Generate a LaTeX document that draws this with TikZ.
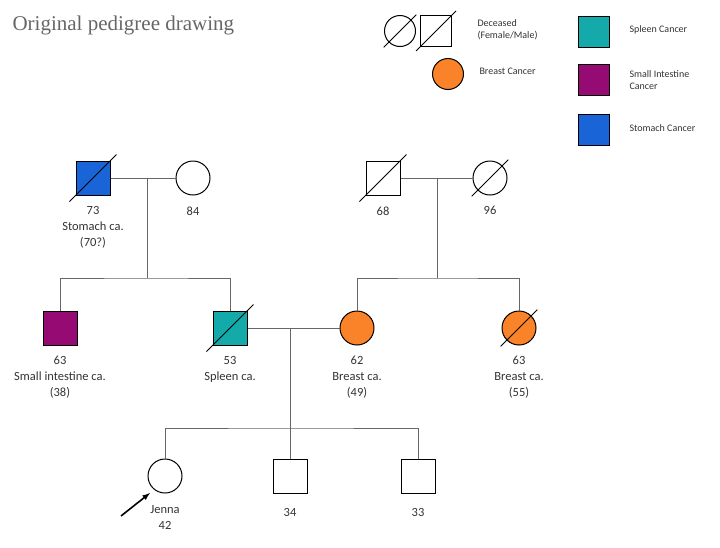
\documentclass[tikz,border=0pt]{standalone}
\usepackage{fontspec}
\setmainfont{Carlito}
\newfontfamily\titlefont{Liberation Serif}
\usetikzlibrary{calc}
\definecolor{stomach}{RGB}{25,100,215}
\definecolor{spleen}{RGB}{20,170,170}
\definecolor{smallint}{RGB}{150,10,115}
\definecolor{breast}{RGB}{250,130,40}
\tikzset{
  male/.style={draw,line width=1pt,minimum size=34pt,inner sep=0pt},
  female/.style={draw,circle,line width=1pt,minimum size=34pt,inner sep=0pt},
  lmale/.style={male,minimum size=31pt},
  lfemale/.style={female,minimum size=31pt},
  lab/.style={align=center,font=\fontsize{12.5pt}{16pt}\selectfont,text=black!80},
  leg/.style={align=left,anchor=west,font=\fontsize{10pt}{12pt}\selectfont,text=black!80},
  line/.style={draw=black!60,line width=0.8pt}
}
\begin{document}
\begin{tikzpicture}[x=1pt,y=-1pt]
\useasboundingbox (0,0) rectangle (720,547);
% Title
\node[anchor=west,text=black!60,font=\titlefont\fontsize{21pt}{23pt}\selectfont] (title) at (9,25) {Original pedigree drawing};
% Legend
\node[lfemale] (ldf) at (400,31) {};
\draw[line width=1pt] ($(ldf.south west)+(-5,5)$) -- ($(ldf.north east)+(5,-5)$);
\node[lmale] (ldm) at (436,31) {};
\draw[line width=1pt] ($(ldm.south west)+(-4,4)$) -- ($(ldm.north east)+(4,-4)$);
\node[leg] (tdead) at (474,30) {Deceased\\(Female/Male)};
\node[lfemale,fill=breast] (lbr) at (448,74) {};
\node[leg] (tbr) at (476,71) {Breast Cancer};
\node[lmale,fill=spleen] (lsp) at (594,32) {};
\node[leg] (tsp) at (626,30) {Spleen Cancer};
\node[lmale,fill=smallint] (lsi) at (594,80) {};
\node[leg] (tsi) at (626,80) {Small Intestine\\Cancer};
\node[lmale,fill=stomach] (lst) at (594,130) {};
\node[leg] (tst) at (626,128) {Stomach Cancer};
% Generation I
\node[male,fill=stomach] (gf) at (93,178) {};
\node[female] (gm) at (193,178) {};
\node[male] (gf2) at (383,178) {};
\node[female] (gm2) at (490,178) {};
\foreach \n in {gf,gm2,gf2}
  \draw[line width=1pt] ($(\n.south west)+(-6,6)$) -- ($(\n.north east)+(6,-6)$);
\node[lab,anchor=north] (tgf) at (93,203) {73\\Stomach ca.\\(70?)};
\node[lab,anchor=north] (tgm) at (193,203) {84};
\node[lab,anchor=north] (tgf2) at (383,203) {68};
\node[lab,anchor=north] (tgm2) at (490,203) {96};
% Generation II
\node[male,fill=smallint] (si) at (60,328) {};
\node[male,fill=spleen] (dad) at (230,328) {};
\node[female,fill=breast] (mom) at (357,328) {};
\node[female,fill=breast] (aunt) at (519,328) {};
\foreach \n in {dad,aunt}
  \draw[line width=1pt] ($(\n.south west)+(-6,6)$) -- ($(\n.north east)+(6,-6)$);
\node[lab,anchor=north] (tsi2) at (60,353) {63\\Small intestine ca.\\(38)};
\node[lab,anchor=north] (tdad) at (230,353) {53\\Spleen ca.};
\node[lab,anchor=north] (tmom) at (357,353) {62\\Breast ca.\\(49)};
\node[lab,anchor=north] (taunt) at (519,353) {63\\Breast ca.\\(55)};
% Generation III
\node[female] (jen) at (165,476) {};
\node[male] (b34) at (290,476) {};
\node[male] (b33) at (418,476) {};
\node[lab,anchor=north] (tjen) at (165,502) {Jenna\\42};
\node[lab,anchor=north] (t34) at (290,505) {34};
\node[lab,anchor=north] (t33) at (418,505) {33};
% Lines
\coordinate (m1) at (147,178);
\coordinate (m2) at (437,178);
\coordinate (m3) at (290,328);
\path[line] (gf) -- (gm);
\path[line] (gf2) -- (gm2);
\path[line] (dad) -- (mom);
\path[line] (m1) -- (147,278) (si.north) |- (147,278) -| (dad.north);
\path[line] (m2) -- (437,278) (mom.north) |- (437,278) -| (aunt.north);
\path[line] (m3) -- (290,428) (jen.north) |- (290,428) -| (b33.north);
\path[line] (290,428) -- (b34.north);
% Proband arrow
\coordinate (pa) at (121,516);
\draw[line width=1.6pt,-latex] (pa) -- (150,493);
\end{tikzpicture}
\end{document}
